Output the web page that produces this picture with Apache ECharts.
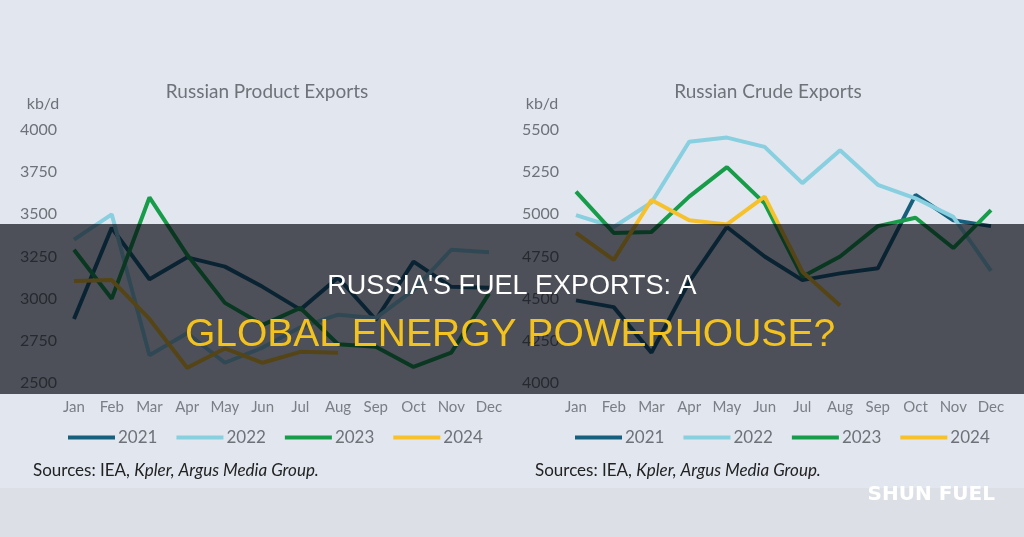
<!DOCTYPE html>
<html>
<head>
<meta charset="utf-8">
<script src="https://cdn.jsdelivr.net/npm/echarts@6/dist/echarts.min.js"></script>
<style>
  html, body { margin: 0; padding: 0; background: #e1e6ef; }
  #main { width: 1024px; height: 537px; }
</style>
</head>
<body>
<div id="main"></div>
<script>
// 月份
const months = ['Jan', 'Feb', 'Mar', 'Apr', 'May', 'Jun', 'Jul', 'Aug', 'Sep', 'Oct', 'Nov', 'Dec'];
const years = ['2021', '2022', '2023', '2024'];

// 成品油出口 kb/d
const product2021 = [2880, 3420, 3115, 3245, 3190, 3070, 2935, 3125, 2875, 3220, 3070, 3065];
const product2022 = [3350, 3500, 2665, 2795, 2620, 2710, 2830, 2905, 2885, 3050, 3290, 3275];
const product2023 = [3290, 3000, 3600, 3260, 2975, 2845, 2945, 2730, 2715, 2595, 2680, 3030];
const product2024 = [3105, 3110, 2880, 2590, 2705, 2620, 2685, 2680];

// 原油出口 kb/d
const crude2021 = [4490, 4450, 4180, 4600, 4925, 4750, 4610, 4650, 4680, 5115, 4965, 4930];
const crude2022 = [4995, 4925, 5070, 5430, 5455, 5400, 5185, 5380, 5175, 5095, 4985, 4665];
const crude2023 = [5135, 4890, 4895, 5105, 5280, 5065, 4630, 4750, 4930, 4980, 4800, 5025];
const crude2024 = [4890, 4730, 5085, 4965, 4940, 5105, 4660, 4460];

const colors = ['#17607d', '#88cfe0', '#179c49', '#f6c12a'];
const labelFont = 'Lato';
const greyText = '#6e7278';

let chart = echarts.init(document.getElementById('main'));

/**
 * 生成一个图表的坐标轴
 */
function makeAxes(idx, min, max) {
    let x = {
        type: 'category', gridIndex: idx, data: months, boundaryGap: false,
        axisLine: { show: false }, axisTick: { show: false }, splitLine: { show: false },
        axisLabel: { interval: 0, color: '#7a7e85', fontFamily: labelFont, fontSize: 15, margin: 17 }
    };
    let y = {
        type: 'value', gridIndex: idx, min: min, max: max, interval: 250,
        axisLine: { show: false }, axisTick: { show: false }, splitLine: { show: false },
        axisLabel: { color: greyText, fontFamily: labelFont, fontSize: 16, margin: 17, formatter: v => String(v) }
    };
    return [x, y];
}

function makeSeries(idx, list) {
    return list.map((d, i) => ({
        name: years[i], type: 'line', xAxisIndex: idx, yAxisIndex: idx, data: d,
        symbol: 'none', lineStyle: { width: 4, color: colors[i] }, itemStyle: { color: colors[i] }
    }));
}

function makeLegend(left) {
    return {
        left: left, top: 424, data: years, icon: 'rect', itemWidth: 47, itemHeight: 4, itemGap: 19,
        textStyle: { color: greyText, fontFamily: labelFont, fontSize: 17, padding: [0, 0, 0, -2] }
    };
}

let [x0, y0] = makeAxes(0, 2500, 4000);
let [x1, y1] = makeAxes(1, 4000, 5500);

function sourceText(x) {
    return {
        type: 'text', left: x, top: 462, z: 10,
        style: {
            text: '{n|Sources: IEA, }{i|Kpler, Argus Media Group.}',
            rich: {
                n: { fontFamily: labelFont, fontSize: 17, fill: '#222' },
                i: { fontFamily: labelFont, fontSize: 17, fontStyle: 'italic', fill: '#222' }
            }
        }
    };
}

function plainText(x, y, text, size, color, align) {
    return {
        type: 'text', x: x, y: y, z: 10,
        style: { text: text, fontFamily: labelFont, fontSize: size, fill: color, align: align || 'center', verticalAlign: 'middle' }
    };
}

chart.setOption({
    backgroundColor: '#e1e6ef',
    animation: false,
    grid: [
        { left: 74, top: 130, width: 415, height: 253 },
        { left: 576, top: 130, width: 415, height: 253 }
    ],
    xAxis: [x0, x1],
    yAxis: [y0, y1],
    legend: [makeLegend(63), makeLegend(570)],
    series: makeSeries(0, [product2021, product2022, product2023, product2024])
        .concat(makeSeries(1, [crude2021, crude2022, crude2023, crude2024])),
    graphic: [
        { type: 'rect', shape: { x: 0, y: 488, width: 1024, height: 49 }, style: { fill: '#dce0e6' }, z: -1 },
        plainText(267, 92, 'Russian Product Exports', 19, '#6f7379'),
        plainText(768, 92, 'Russian Crude Exports', 19, '#6f7379'),
        plainText(43, 104, 'kb/d', 16, greyText),
        plainText(542, 104, 'kb/d', 16, greyText),
        sourceText(33),
        sourceText(535),
        // 中间的深色横幅
        { type: 'rect', shape: { x: 0, y: 224, width: 1024, height: 170 }, style: { fill: 'rgba(4,6,14,0.67)' }, z: 100 },
        {
            type: 'text', x: 512, y: 287, z: 101,
            style: { text: "RUSSIA'S FUEL EXPORTS: A", fontFamily: 'Liberation Sans', fontSize: 27, fill: '#ffffff', align: 'center', verticalAlign: 'middle' }
        },
        {
            type: 'text', x: 510, y: 335, z: 101,
            style: { text: 'GLOBAL ENERGY POWERHOUSE?', fontFamily: 'Liberation Sans', fontSize: 39, fill: '#f4c21d', align: 'center', verticalAlign: 'middle' }
        },
        {
            type: 'text', x: 995, y: 495, z: 101,
            style: { text: 'SHUN FUEL', fontFamily: 'DejaVu Sans', fontWeight: 'bold', fontSize: 20, fill: '#ffffff', align: 'right', verticalAlign: 'middle' }
        }
    ]
});
</script>
</body>
</html>
